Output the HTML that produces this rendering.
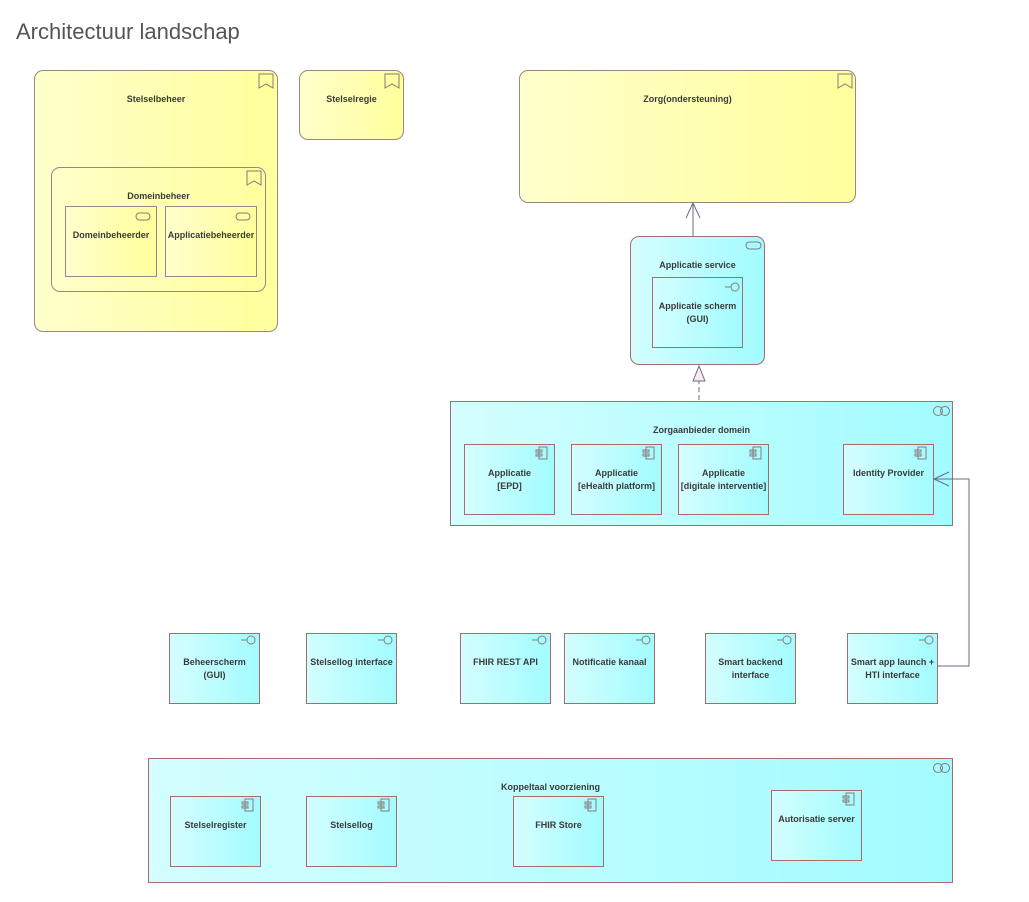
<!DOCTYPE html>
<html><head><meta charset="utf-8"><style>
body{margin:0;width:1029px;height:902px;background:#fff;position:relative;overflow:hidden;font-family:"Liberation Sans",sans-serif}
.b{position:absolute;box-sizing:border-box;border:1px solid #9b8686}
.y{background:linear-gradient(to right,#ffffcc,#ffff9c)}
.c{background:linear-gradient(to right,#d4feff,#a2fcff);border-color:#a86a6a}
.r{border-radius:9px}
.l{position:absolute;left:0;right:0;text-align:center;font-size:9px;font-weight:bold;color:#3a3a3a;line-height:13px}
.t{position:absolute;font-size:22px;color:#555;left:16px;top:19px}
svg{position:absolute;left:0;top:0}
</style></head><body>
<div class="t">Architectuur landschap</div>

<div class="b y r" style="left:34px;top:70px;width:244px;height:262px"><div class="l" style="top:22px">Stelselbeheer</div></div>
<div class="b y r" style="left:51px;top:167px;width:215px;height:125px;background:none"><div class="l" style="top:22px">Domeinbeheer</div></div>
<div class="b y" style="left:65px;top:206px;width:92px;height:71px"><div class="l" style="top:22px">Domeinbeheerder</div></div>
<div class="b y" style="left:165px;top:206px;width:92px;height:71px"><div class="l" style="top:22px">Applicatiebeheerder</div></div>
<div class="b y r" style="left:299px;top:70px;width:105px;height:70px"><div class="l" style="top:22px">Stelselregie</div></div>
<div class="b y r" style="left:519px;top:70px;width:337px;height:133px"><div class="l" style="top:22px">Zorg(ondersteuning)</div></div>

<div class="b c r" style="left:630px;top:236px;width:135px;height:129px"><div class="l" style="top:22px">Applicatie service</div></div>
<div class="b c" style="left:652px;top:277px;width:91px;height:71px"><div class="l" style="top:22px">Applicatie scherm<br>(GUI)</div></div>

<div class="b c" style="left:450px;top:401px;width:503px;height:125px"><div class="l" style="top:22px">Zorgaanbieder domein</div></div>
<div class="b c" style="left:464px;top:444px;width:91px;height:71px"><div class="l" style="top:22px">Applicatie<br>[EPD]</div></div>
<div class="b c" style="left:571px;top:444px;width:91px;height:71px"><div class="l" style="top:22px">Applicatie<br>[eHealth platform]</div></div>
<div class="b c" style="left:678px;top:444px;width:91px;height:71px"><div class="l" style="top:22px">Applicatie<br>[digitale interventie]</div></div>
<div class="b c" style="left:843px;top:444px;width:91px;height:71px"><div class="l" style="top:22px">Identity Provider</div></div>

<div class="b c" style="left:169px;top:633px;width:91px;height:71px"><div class="l" style="top:22px">Beheerscherm<br>(GUI)</div></div>
<div class="b c" style="left:306px;top:633px;width:91px;height:71px"><div class="l" style="top:22px">Stelsellog interface</div></div>
<div class="b c" style="left:460px;top:633px;width:91px;height:71px"><div class="l" style="top:22px">FHIR REST API</div></div>
<div class="b c" style="left:564px;top:633px;width:91px;height:71px"><div class="l" style="top:22px">Notificatie kanaal</div></div>
<div class="b c" style="left:705px;top:633px;width:91px;height:71px"><div class="l" style="top:22px">Smart backend<br>interface</div></div>
<div class="b c" style="left:847px;top:633px;width:91px;height:71px"><div class="l" style="top:22px">Smart app launch +<br>HTI interface</div></div>

<div class="b c" style="left:148px;top:758px;width:805px;height:125px"><div class="l" style="top:22px">Koppeltaal voorziening</div></div>
<div class="b c" style="left:170px;top:796px;width:91px;height:71px"><div class="l" style="top:22px">Stelselregister</div></div>
<div class="b c" style="left:306px;top:796px;width:91px;height:71px"><div class="l" style="top:22px">Stelsellog</div></div>
<div class="b c" style="left:513px;top:796px;width:91px;height:71px"><div class="l" style="top:22px">FHIR Store</div></div>
<div class="b c" style="left:771px;top:790px;width:91px;height:71px"><div class="l" style="top:22px">Autorisatie server</div></div>

<svg width="1029" height="902" fill="none" stroke="#8a7a7a" stroke-width="1">
<g><path d="M259 74h14v14l-7-4-7 4z"/><path d="M385 74h14v14l-7-4-7 4z"/><path d="M838 74h14v14l-7-4-7 4z"/><path d="M247 171h14v14l-7-4-7 4z"/></g>
<rect x="236" y="213" width="14" height="7" rx="3.5"/><rect x="136" y="213" width="14" height="7" rx="3.5"/>
<rect x="746" y="242" width="15" height="7" rx="3.5"/>
<g>
<circle cx="735" cy="287" r="4"/><path d="M725 287h6"/>
<circle cx="251" cy="640" r="4"/><path d="M241 640h6"/>
<circle cx="388" cy="640" r="4"/><path d="M378 640h6"/>
<circle cx="542" cy="640" r="4"/><path d="M532 640h6"/>
<circle cx="646" cy="640" r="4"/><path d="M636 640h6"/>
<circle cx="787" cy="640" r="4"/><path d="M777 640h6"/>
<circle cx="929" cy="640" r="4"/><path d="M919 640h6"/>
</g>
<g>
<path d="M539 447h8v12h-8zM536 450h6v2h-6zM536 454h6v2h-6z"/>
<path d="M646 447h8v12h-8zM643 450h6v2h-6zM643 454h6v2h-6z"/>
<path d="M753 447h8v12h-8zM750 450h6v2h-6zM750 454h6v2h-6z"/>
<path d="M918 447h8v12h-8zM915 450h6v2h-6zM915 454h6v2h-6z"/>
<path d="M245 799h8v12h-8zM242 802h6v2h-6zM242 806h6v2h-6z"/>
<path d="M381 799h8v12h-8zM378 802h6v2h-6zM378 806h6v2h-6z"/>
<path d="M588 799h8v12h-8zM585 802h6v2h-6zM585 806h6v2h-6z"/>
<path d="M846 793h8v12h-8zM843 796h6v2h-6zM843 800h6v2h-6z"/>
</g>
<circle cx="938" cy="411" r="4.5"/><circle cx="945" cy="411" r="4.5"/>
<circle cx="938" cy="768" r="4.5"/><circle cx="945" cy="768" r="4.5"/>
<g stroke="#6a6a8a">
<path d="M693 236V203M686 218l7-15 7 15"/>
<path d="M699 400V381" stroke-dasharray="5,3"/>
<path d="M693 381l6-15 6 15z" fill="#f8ece8"/>
<path d="M938 666H969V479H934M949 472l-15 7 15 7"/>
</g>
</svg>
</body></html>
